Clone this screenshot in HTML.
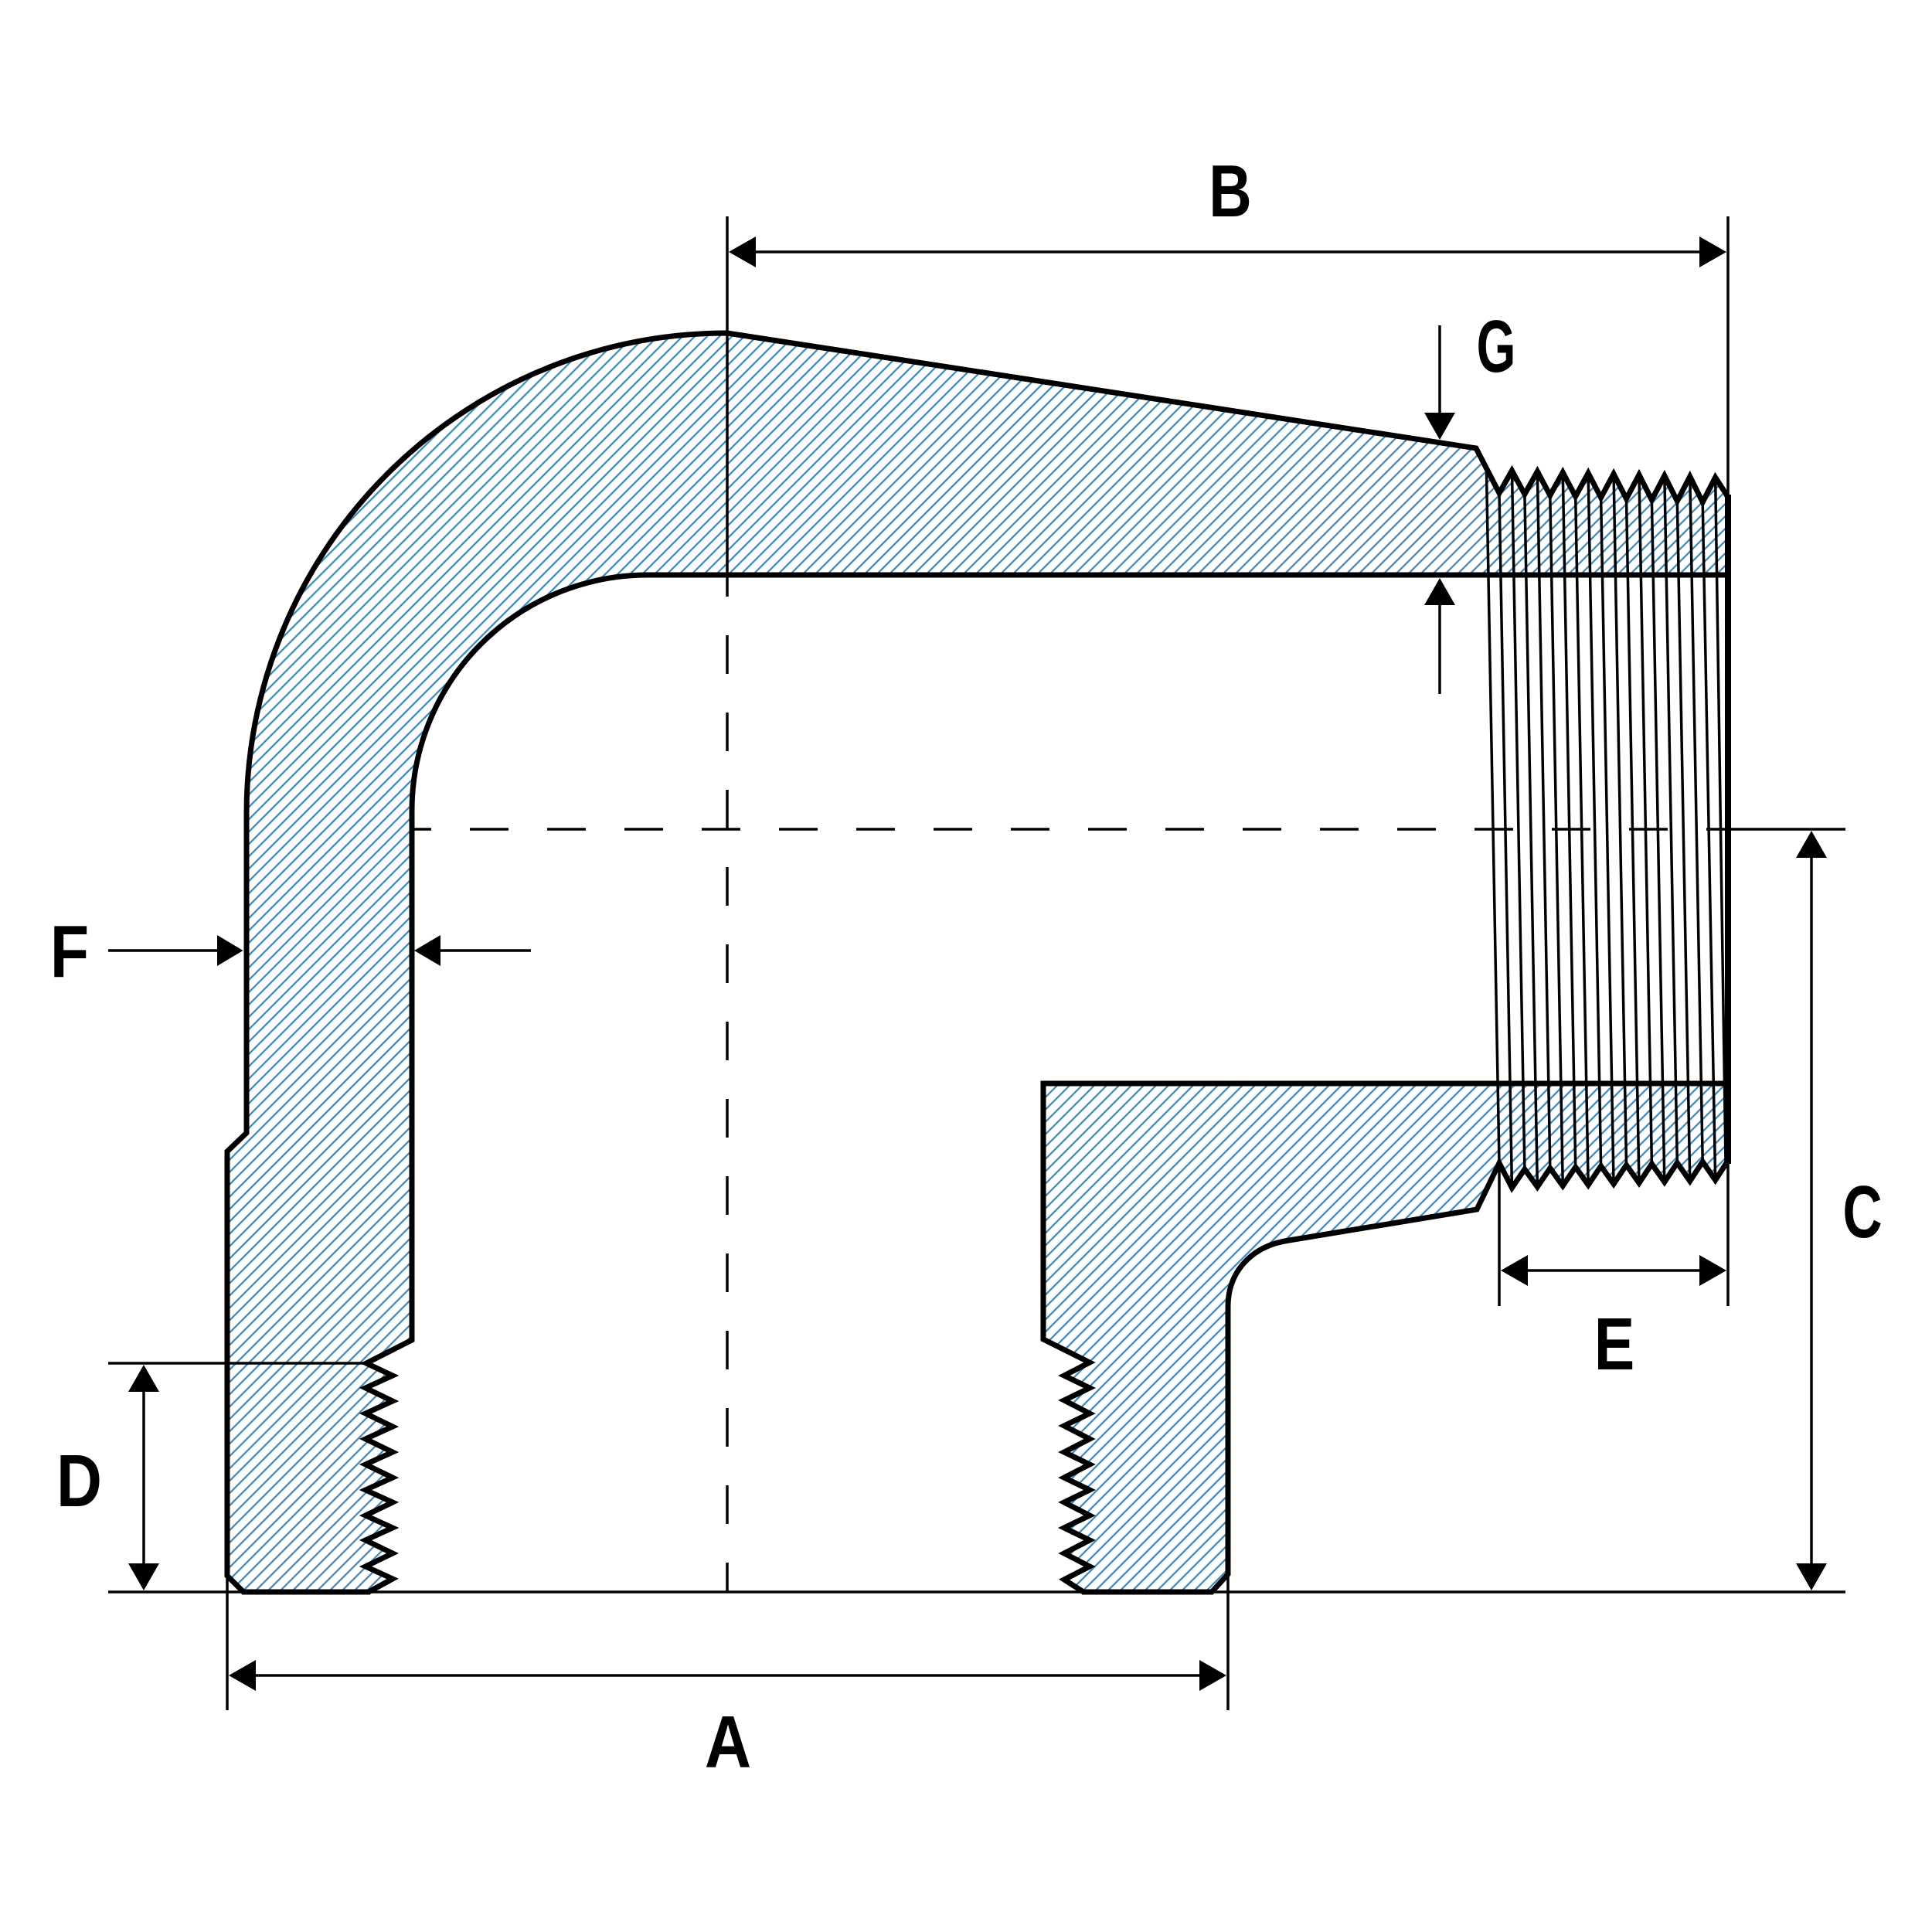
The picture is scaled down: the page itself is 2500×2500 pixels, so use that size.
<!DOCTYPE html>
<html>
<head>
<meta charset="utf-8">
<style>
  html,body{margin:0;padding:0;background:#fff;}
  svg{display:block;}
  text{font-family:"Liberation Sans", Arial, sans-serif;font-weight:bold;font-size:96px;fill:#000;}
</style>
</head>
<body>
<svg width="2500" height="2500" viewBox="0 0 2500 2500" xmlns="http://www.w3.org/2000/svg">
  <defs>
    <pattern id="hatch" patternUnits="userSpaceOnUse" width="11.3" height="20" patternTransform="rotate(45)">
      <line x1="5.65" y1="-5" x2="5.65" y2="25" stroke="#3b86b5" stroke-width="2.2"/>
    </pattern>
  </defs>
  <rect x="0" y="0" width="2500" height="2500" fill="#fff"/>

  <!-- Main body (hatched) -->
  <path fill="url(#hatch)" stroke="#000" stroke-width="7" stroke-linejoin="miter" stroke-miterlimit="10"
    d="M 319 1053 A 622 622 0 0 1 941 431 L 1910 580 L 1940 638
       L 1956.45 609 L 1972.9 639.5 L 1989.35 610.1 L 2005.8 641 L 2022.25 611.2 L 2038.7 642.4
       L 2055.15 612.2 L 2071.6 643.9 L 2088.05 613.3 L 2104.5 645.4 L 2120.95 614.4 L 2137.4 646.9
       L 2153.85 615.5 L 2170.3 648.4 L 2186.75 616.6 L 2203.2 649.8 L 2219.65 617.7 L 2234 640 L 2236 644
       L 2236 744 L 838 744 A 305 305 0 0 0 533 1049 L 533 1734 L 474 1764
       L 508 1780 L 473 1796 L 508 1813 L 473 1829 L 508 1846 L 473 1862 L 508 1879 L 473 1895
       L 508 1912 L 473 1928 L 508 1944 L 473 1961 L 508 1977 L 473 1993 L 508 2010 L 473 2027
       L 508 2043 L 477 2060 L 315 2060 L 294 2039 L 294 1490 L 319 1466 Z"/>

  <!-- Lower right piece (hatched) -->
  <path fill="url(#hatch)" stroke="#000" stroke-width="7" stroke-linejoin="miter" stroke-miterlimit="10"
    d="M 1350 1402 L 2236 1402 L 2236 1502 L 2234 1505
       L 2219.65 1527 L 2203.2 1503.3 L 2186.75 1528.3 L 2170.3 1504.7 L 2153.85 1529.5 L 2137.4 1506.1
       L 2120.95 1530.8 L 2104.5 1507.5 L 2088.05 1532 L 2071.6 1508.9 L 2055.15 1533.3 L 2038.7 1510.2
       L 2022.25 1534.5 L 2005.8 1511.6 L 1989.35 1535.8 L 1972.9 1513 L 1956.45 1537 L 1940 1505
       L 1911 1565 L 1668 1605 C 1620 1612 1589 1645 1589 1691 L 1589 2037 L 1568 2060 L 1402 2060
       L 1377 2044 L 1410 2027 L 1377 2010 L 1410 1993 L 1377 1977 L 1410 1961 L 1377 1944 L 1410 1928
       L 1377 1912 L 1410 1895 L 1377 1879 L 1410 1862 L 1377 1845 L 1410 1829 L 1377 1812 L 1410 1796
       L 1377 1780 L 1410 1763 L 1350 1733 Z"/>

  <!-- Thread lines (slanted) -->
  <g stroke="#000" stroke-width="3.5" fill="none">
    <line x1="1923.5" y1="612" x2="1940" y2="1505"/>
    <line x1="1940" y1="638" x2="1956.45" y2="1537"/>
    <line x1="1956.45" y1="609" x2="1972.9" y2="1513"/>
    <line x1="1972.9" y1="639.5" x2="1989.35" y2="1535.8"/>
    <line x1="1989.35" y1="610.1" x2="2005.8" y2="1511.6"/>
    <line x1="2005.8" y1="641" x2="2022.25" y2="1534.5"/>
    <line x1="2022.25" y1="611.2" x2="2038.7" y2="1510.2"/>
    <line x1="2038.7" y1="642.4" x2="2055.15" y2="1533.3"/>
    <line x1="2055.15" y1="612.2" x2="2071.6" y2="1508.9"/>
    <line x1="2071.6" y1="643.9" x2="2088.05" y2="1532"/>
    <line x1="2088.05" y1="613.3" x2="2104.5" y2="1507.5"/>
    <line x1="2104.5" y1="645.4" x2="2120.95" y2="1530.8"/>
    <line x1="2120.95" y1="614.4" x2="2137.4" y2="1506.1"/>
    <line x1="2137.4" y1="646.9" x2="2153.85" y2="1529.5"/>
    <line x1="2153.85" y1="615.5" x2="2170.3" y2="1504.7"/>
    <line x1="2170.3" y1="648.4" x2="2186.75" y2="1528.3"/>
    <line x1="2186.75" y1="616.6" x2="2203.2" y2="1503.3"/>
    <line x1="2203.2" y1="649.8" x2="2219.65" y2="1527"/>
    <line x1="2219.65" y1="617.7" x2="2233" y2="1505"/>
  </g>

  <!-- Thick right edge -->
  <line x1="2236" y1="640" x2="2236" y2="1506" stroke="#000" stroke-width="8"/>

  <!-- Center lines -->
  <g stroke="#000" stroke-width="3.5" fill="none">
    <line x1="536" y1="1073" x2="2236" y2="1073" stroke-dasharray="50 50" stroke-dashoffset="28"/>
    <line x1="941" y1="772" x2="941" y2="2060" stroke-dasharray="50 50" stroke-dashoffset="50"/>
  </g>

  <!-- Thin dimension / extension lines -->
  <g stroke="#000" stroke-width="3.5" fill="none">
    <!-- B -->
    <line x1="941" y1="280" x2="941" y2="772"/>
    <line x1="2236" y1="280" x2="2236" y2="1690"/>
    <line x1="970" y1="326" x2="2207" y2="326"/>
    <!-- G -->
    <line x1="1863" y1="421" x2="1863" y2="540"/>
    <line x1="1863" y1="775" x2="1863" y2="898"/>
    <!-- F -->
    <line x1="140" y1="1230" x2="288" y2="1230"/>
    <line x1="564" y1="1230" x2="687" y2="1230"/>
    <!-- D -->
    <line x1="140" y1="1764" x2="476" y2="1764"/>
    <line x1="186" y1="1790" x2="186" y2="2034"/>
    <!-- C -->
    <line x1="2236" y1="1073" x2="2388" y2="1073"/>
    <line x1="2344" y1="1100" x2="2344" y2="2034"/>
    <line x1="140" y1="2060" x2="2388" y2="2060"/>
    <!-- E -->
    <line x1="1940" y1="1505" x2="1940" y2="1690"/>
    <line x1="1966" y1="1644" x2="2210" y2="1644"/>
    <!-- A -->
    <line x1="294" y1="2039" x2="294" y2="2213"/>
    <line x1="1589" y1="2037" x2="1589" y2="2213"/>
    <line x1="320" y1="2168" x2="1563" y2="2168"/>
  </g>

  <!-- Bottom thick edge (redraw over thin line) -->
  <line x1="313" y1="2060" x2="479" y2="2060" stroke="#000" stroke-width="7"/>
  <line x1="1400" y1="2060" x2="1570" y2="2060" stroke="#000" stroke-width="7"/>

  <!-- Arrowheads -->
  <g fill="#000" stroke="none">
    <!-- B -->
    <polygon points="943,326 978,306 978,346"/>
    <polygon points="2234,326 2199,306 2199,346"/>
    <!-- G -->
    <polygon points="1863,569 1843,534 1883,534"/>
    <polygon points="1863,748 1843,783 1883,783"/>
    <!-- F -->
    <polygon points="314.5,1230 281,1210 281,1250"/>
    <polygon points="536,1230 570,1210 570,1250"/>
    <!-- D -->
    <polygon points="186,1766 166,1801 206,1801"/>
    <polygon points="186,2058 166,2023 206,2023"/>
    <!-- C -->
    <polygon points="2344,1075 2324,1110 2364,1110"/>
    <polygon points="2344,2058 2324,2023 2364,2023"/>
    <!-- E -->
    <polygon points="1942,1644 1977,1624 1977,1664"/>
    <polygon points="2234,1644 2199,1624 2199,1664"/>
    <!-- A -->
    <polygon points="296,2168 331,2148 331,2188"/>
    <polygon points="1587,2168 1552,2148 1552,2188"/>
  </g>

  <!-- Labels -->
  <text text-anchor="middle" transform="translate(1592,280) scale(0.8,1)">B</text>
  <text text-anchor="middle" transform="translate(1936,481) scale(0.68,1)">G</text>
  <text text-anchor="middle" transform="translate(90,1264) scale(0.86,1)">F</text>
  <text text-anchor="middle" transform="translate(2410,1601) scale(0.74,1)">C</text>
  <text text-anchor="middle" transform="translate(102.5,1949) scale(0.85,1)">D</text>
  <text text-anchor="middle" transform="translate(2089,1772) scale(0.82,1)">E</text>
  <text text-anchor="middle" transform="translate(942,2287) scale(0.87,1)">A</text>
</svg>
</body>
</html>
